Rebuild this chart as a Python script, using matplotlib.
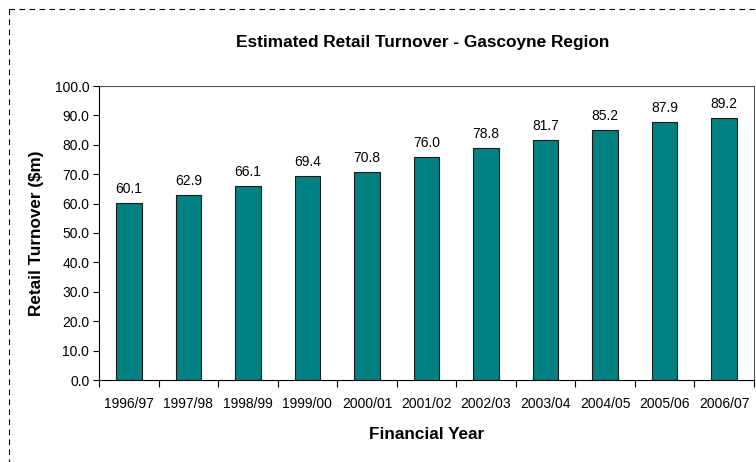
import matplotlib
matplotlib.use("Agg")
from matplotlib import pyplot as plt
from matplotlib.lines import Line2D
import numpy as np

plt.rcParams['font.family'] = ['Liberation Sans', 'DejaVu Sans']

years = ['1996/97', '1997/98', '1998/99', '1999/00', '2000/01', '2001/02',
         '2002/03', '2003/04', '2004/05', '2005/06', '2006/07']
turnover = [60.1, 62.9, 66.1, 69.4, 70.8, 76.0, 78.8, 81.7, 85.2, 87.9, 89.2]

W, H = 756, 462
fig = plt.figure(figsize=(W / 100, H / 100), dpi=100)
# axes box in pixel coords: left 99, right 754, top 86, bottom 380
ax = fig.add_axes([99 / W, 1 - 380 / H, (754 - 99) / W, (380 - 86) / H])

pos = np.arange(len(years))
bars = ax.bar(pos, turnover, width=0.43, color='#008080', edgecolor='#1a1a1a', linewidth=0.8)
for b, v in zip(bars, turnover):
    ax.annotate('{:.1f}'.format(v), (b.get_x() + b.get_width() / 2, v),
                xytext=(0, 5), textcoords='offset points', ha='center', va='bottom', fontsize=10)

ax.set_xlim(-0.5, len(years) - 0.5)
ax.set_ylim(0, 100)
ax.set_yticks(np.arange(0, 101, 10))
ax.set_yticklabels(['{:.1f}'.format(t) for t in np.arange(0, 101, 10)], fontsize=10)
ax.set_xticks(pos)
ax.set_xticklabels(years, fontsize=10)
ax.tick_params(axis='x', length=0, pad=12)
ax.set_xticks(np.arange(-0.5, len(years), 1), minor=True)
ax.tick_params(axis='x', which='minor', length=5, direction='out', width=0.8)
ax.tick_params(axis='y', length=4, direction='out', width=0.8, pad=3)
for s in ax.spines.values():
    s.set_linewidth(0.8)
ax.spines['top'].set_color('#555555')
ax.spines['right'].set_color('#555555')

ax.set_xlabel('Financial Year', fontsize=12.3, fontweight='bold', labelpad=12)
ax.set_ylabel('Retail Turnover ($m)', fontsize=12.3, fontweight='bold', labelpad=8)
fig.text(423 / W, 1 - 43 / H, 'Estimated Retail Turnover - Gascoyne Region',
         ha='center', va='center', fontsize=12.4, fontweight='bold')

# dashed outer frame
fig.add_artist(Line2D([9 / W, 1], [1 - 9 / H, 1 - 9 / H], color='black', lw=0.8, ls=(0, (5, 4))))
fig.add_artist(Line2D([9 / W, 9 / W], [1 - 9 / H, 0], color='black', lw=0.8, ls=(0, (5, 4))))

fig.savefig('out.png', dpi=100)
